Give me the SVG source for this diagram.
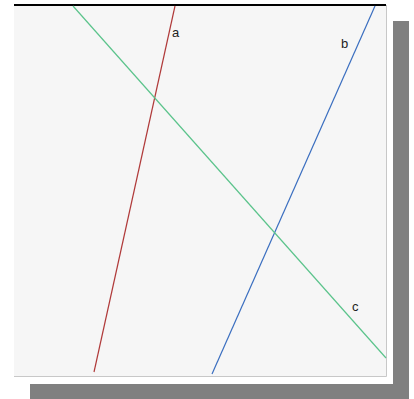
<svg xmlns="http://www.w3.org/2000/svg" width="414" height="399" viewBox="0 0 414 399">
<style>
.lbl{font-family:"Liberation Sans",Arial,sans-serif;font-size:13px;fill:#222}
.ln{fill:none;stroke-width:1.2}
</style>
<rect width="414" height="399" fill="#ffffff"/>
<rect x="30" y="21" width="379" height="378" fill="#808080"/>
<rect x="14" y="5" width="379" height="379" fill="#ffffff"/>
<rect x="14" y="5" width="372" height="371" fill="#f6f6f6"/>
<path d="M386.5 5V376.5H14" fill="none" stroke="#c8c8c8" stroke-width="1"/>
<line x1="14" y1="5" x2="386" y2="5" stroke="#000" stroke-width="2"/>
<g id="connectors">
<line id="a" class="ln" x1="94" y1="372" x2="175" y2="6" stroke="#b03a3a"/>
<line id="b" class="ln" x1="212" y1="374" x2="375" y2="6" stroke="#3a6ec0"/>
<line id="c" class="ln" x1="73" y1="6" x2="386" y2="358" stroke="#5cc48c"/>
</g>
<g id="labels">
<text class="lbl" x="172" y="37">a</text>
<text class="lbl" x="341" y="48">b</text>
<text class="lbl" x="352" y="311">c</text>
</g>
</svg>
